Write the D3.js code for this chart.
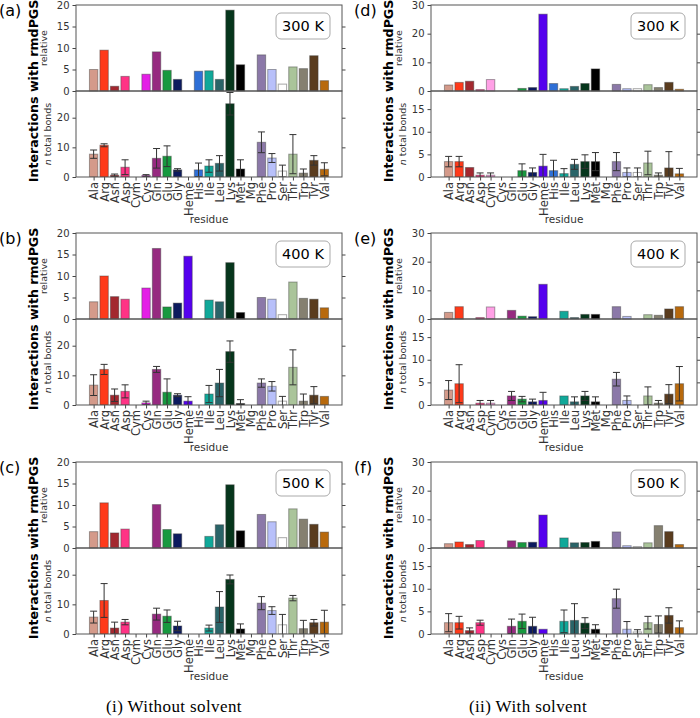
<!DOCTYPE html>
<html>
<head>
<meta charset="utf-8">
<script src="https://cdn.jsdelivr.net/npm/d3@7"></script>
<style>
  body { margin: 0; background: #fff; }
  text { font-family: "DejaVu Sans", sans-serif; }
</style>
</head>
<body>
<script>
// residues and their bar colours
var residues = ["Ala","Arg","Asn","Asp","Cym","Cys","Gln","Glu","Gly","Heme","His","Ile","Leu","Lys","Met","Mg","Phe","Pro","Ser","Thr","Trp","Tyr","Val"];
var colors = ["#d49a8a","#ff3a1a","#a3282f","#ff3385","#ffa0e6","#e41ee6","#962a80","#17993f","#0c1a5e","#5500ee","#2e6fd6","#10a899","#2a6468","#06361c","#000000","#888888","#8b78a8","#b8c0fa","#ffffff","#aac49a","#858070","#5a3c1e","#b8690c"];

// (i) without solvent: relative / n total bonds / error
var rel300 = [5.0,9.5,1.1,3.4,0,3.9,9.1,4.8,2.7,0,4.6,4.7,2.7,18.8,6.1,0,8.4,5.0,1.6,5.6,5.2,8.2,2.4];
var n300   = [7.7,10.7,0.6,3.3,0,0.5,6.3,7.0,2.4,0,2.4,3.7,4.6,24.7,2.7,0,11.7,6.4,2.0,7.7,1.3,5.6,2.6];
var e300   = [1.4,0.5,0.4,2.5,0,0.3,3.3,3.5,0.4,0,2.3,2.1,2.6,3.8,3.1,0,3.5,1.5,2.0,6.6,1.4,1.6,2.2];

var rel400 = [4.0,10.0,5.2,4.6,0,7.2,16.4,2.8,3.7,14.6,0,4.4,4.0,13.1,1.5,0,5.0,4.6,1.0,8.6,4.8,4.6,2.6];
var n400   = [6.7,12.0,3.3,4.6,0,0.7,12.0,4.3,3.3,1.3,0,3.7,7.4,18.0,0.5,0,7.4,6.3,1.3,12.7,1.3,3.3,2.9];
var e400   = [3.5,1.7,2.1,2.2,0,0.6,1.0,4.5,0.5,1.5,0,2.9,4.6,3.6,1.3,0,1.4,1.6,1.6,5.9,2.4,2.9,0];

var rel500 = [3.8,10.5,3.5,4.4,0,0,10.1,4.3,3.3,0,0,2.7,5.4,14.7,4.0,0,7.8,6.1,2.4,9.1,6.7,5.5,3.7];
var n500   = [5.7,11.3,2.0,4.0,0,0,6.7,6.0,2.7,0,0,2.0,9.1,18.4,1.7,0,10.4,7.9,3.1,12.1,1.8,3.8,4.0];
var e500   = [2.0,5.7,2.0,0.9,0,0,2.0,2.1,1.6,0,0,1.0,5.2,1.5,1.7,0,2.2,1.3,3.5,0.9,2.8,1.1,4.0];

// (ii) with solvent
var relS300 = [2.1,3.0,3.4,0.5,4.0,0,0,0.9,1.2,26.8,2.6,0.8,1.6,2.6,7.7,0,2.3,0.8,0.8,2.2,1.2,3.0,0.6];
var nS300   = [3.4,3.4,2.1,0.4,0.4,0,0,1.4,1.0,2.4,1.4,0.75,2.8,3.4,3.4,0,3.4,1.0,1.0,3.1,0.4,2.0,0.7];
var eS300   = [1.15,1.15,0,0.5,0.5,0,0,1.5,1.0,2.6,2.3,1.1,1.1,1.5,2.0,0,2.0,1.0,1.0,2.6,0.5,3.6,1.2];

var relS400 = [2.3,4.3,0,0.5,4.2,0,3.0,1.0,0.8,12.1,0,2.7,0.5,1.6,1.6,0,4.3,0.9,0,1.5,1.3,3.5,4.3];
var nS400   = [3.3,4.7,0,0.4,0.4,0,2.0,1.3,0.7,1.0,0,2.0,0.7,2.0,0.7,0,5.7,1.0,0,2.0,0.4,2.4,4.7];
var eS400   = [2.1,4.2,0,0.6,0.6,0,1.0,0.6,0.6,1.8,0,0,1.1,1.0,1.1,0,1.5,1.0,0,2.0,0.6,2.1,3.8];

var relS500 = [1.5,2.1,1.2,2.6,0,0,2.5,1.9,2.0,11.5,0,3.5,1.8,1.9,2.3,0,5.6,0.8,0.5,1.8,7.8,5.7,1.2];
var nS500   = [2.5,2.5,0.75,2.5,0,0,1.7,2.8,1.7,1.05,0,2.8,3.0,2.4,1.05,0,7.8,1.05,0.45,2.5,2.1,4.1,1.4];
var eS500   = [2.0,1.4,0.6,0.55,0,0,1.6,1.6,2.0,0,0,2.5,3.7,1.2,1.0,0,2.1,1.7,0.5,1.4,1.9,1.7,1.5];

// axis ticks
var relTicksL = [0,5,10,15,20], relTicksR = [0,10,20,30];
var nTicksL = [0,10,20], nTicksR = [0,5,10,15];

var svg = d3.select("body").append("svg")
    .attr("width", 700)
    .attr("height", 718);

var W = 266, H = 86;
var clipId = 0;

function styleAxis(g) {
    g.select(".domain").remove();
    g.selectAll("line").attr("stroke", "#444");
    g.selectAll("text").attr("fill", "#333").style("font-size", "10px");
}

function drawPanel(p) {
    var x = d3.scaleLinear().domain([-1.68, 23.68]).range([p.x0, p.x0 + W]);
    var yU = d3.scaleLinear().domain([0, p.relMax]).range([p.top + H, p.top]);
    var yL = d3.scaleLinear().domain([0, p.nMax]).range([p.top + 2 * H, p.top + H]);
    var bw = x(0.4) - x(0);
    var g = svg.append("g");

    // upper: relative
    g.append("g").selectAll("rect")
        .data(p.rel.map(function (v, i) { return {v: v, i: i}; }).filter(function (d) { return d.v > 0; }))
        .enter().append("rect")
        .attr("x", function (d) { return x(d.i) - bw; })
        .attr("width", 2 * bw)
        .attr("y", function (d) { return yU(d.v); })
        .attr("height", function (d) { return yU(0) - yU(d.v); })
        .attr("fill", function (d) { return colors[d.i]; })
        .attr("stroke", "rgba(60,60,60,0.45)")
        .attr("stroke-width", 1);

    // lower: n total bonds
    clipId++;
    svg.append("clipPath").attr("id", "clip" + clipId)
        .append("rect").attr("x", p.x0).attr("y", p.top + H).attr("width", W).attr("height", H);
    var lo = g.append("g").attr("clip-path", "url(#clip" + clipId + ")");
    var dat = p.n.map(function (v, i) { return {v: v, e: p.err[i], i: i}; });
    lo.selectAll("rect")
        .data(dat.filter(function (d) { return d.v > 0; }))
        .enter().append("rect")
        .attr("x", function (d) { return x(d.i) - bw; })
        .attr("width", 2 * bw)
        .attr("y", function (d) { return yL(d.v); })
        .attr("height", function (d) { return yL(0) - yL(d.v); })
        .attr("fill", function (d) { return colors[d.i]; })
        .attr("stroke", "rgba(60,60,60,0.45)")
        .attr("stroke-width", 1);

    var eb = lo.selectAll("g.eb")
        .data(dat.filter(function (d) { return d.e > 0; }))
        .enter().append("g")
        .attr("stroke", "#333")
        .attr("stroke-width", 1);
    eb.append("line")
        .attr("x1", function (d) { return x(d.i); })
        .attr("x2", function (d) { return x(d.i); })
        .attr("y1", function (d) { return yL(d.v - d.e); })
        .attr("y2", function (d) { return yL(d.v + d.e); });
    eb.append("line")
        .attr("x1", function (d) { return x(d.i) - 3.5; })
        .attr("x2", function (d) { return x(d.i) + 3.5; })
        .attr("y1", function (d) { return yL(d.v + d.e); })
        .attr("y2", function (d) { return yL(d.v + d.e); });
    eb.append("line")
        .attr("x1", function (d) { return x(d.i) - 3.5; })
        .attr("x2", function (d) { return x(d.i) + 3.5; })
        .attr("y1", function (d) { return yL(d.v - d.e); })
        .attr("y2", function (d) { return yL(d.v - d.e); });

    // axes
    g.append("g").attr("transform", "translate(" + p.x0 + ",0)")
        .call(d3.axisLeft(yU).tickValues(p.relTicks).tickSize(3.5).tickPadding(3))
        .call(styleAxis);
    g.append("g").attr("transform", "translate(" + (p.x0 + W) + ",0)")
        .call(d3.axisRight(yU).tickValues(p.relTicks.slice(1, -1)).tickSize(3.5).tickFormat(""))
        .call(styleAxis);
    g.append("g").attr("transform", "translate(" + p.x0 + ",0)")
        .call(d3.axisLeft(yL).tickValues(p.nTicks).tickSize(3.5).tickPadding(3))
        .call(styleAxis);
    g.append("g").attr("transform", "translate(" + (p.x0 + W) + ",0)")
        .call(d3.axisRight(yL).tickValues(p.nTicks.slice(1)).tickSize(3.5).tickFormat(""))
        .call(styleAxis);

    var xa = g.append("g").attr("transform", "translate(0," + (p.top + 2 * H) + ")")
        .call(d3.axisBottom(x).tickValues(d3.range(residues.length)).tickSize(3.5)
            .tickFormat(function (i) { return residues[i]; }))
        .call(styleAxis);
    xa.selectAll("text")
        .style("font-size", "11.5px")
        .attr("transform", "rotate(-90)")
        .attr("text-anchor", "end")
        .attr("x", -5)
        .attr("y", 0)
        .attr("dy", "0.35em");

    // frames
    [p.top, p.top + H].forEach(function (t) {
        g.append("rect").attr("x", p.x0).attr("y", t).attr("width", W).attr("height", H)
            .attr("fill", "none").attr("stroke", "#555").attr("stroke-width", 1);
    });

    // labels
    g.append("text")
        .attr("transform", "translate(" + (p.x0 - 29) + "," + (p.top + H / 2) + ") rotate(-90)")
        .attr("text-anchor", "middle")
        .attr("fill", "#333")
        .style("font-size", "9.5px")
        .text("relative");
    var nl = g.append("text")
        .attr("transform", "translate(" + (p.x0 - 25) + "," + (p.top + 1.5 * H) + ") rotate(-90)")
        .attr("text-anchor", "middle")
        .attr("fill", "#333")
        .style("font-size", "9.5px");
    nl.append("tspan").style("font-style", "italic").text("n");
    nl.append("tspan").text(" total bonds");

    g.append("text")
        .attr("transform", "translate(" + (p.x0 - 38) + "," + (p.top + H) + ") rotate(-90)")
        .attr("text-anchor", "middle")
        .style("font-size", "12.6px")
        .style("font-weight", "bold")
        .text("Interactions with rmdPGS");

    g.append("text")
        .attr("x", p.x0 + W / 2)
        .attr("y", p.top + 2 * H + 46)
        .attr("text-anchor", "middle")
        .attr("fill", "#333")
        .style("font-size", "10.5px")
        .text("residue");

    g.append("text")
        .attr("x", p.x0 - 77)
        .attr("y", p.top + 11)
        .style("font-size", "16px")
        .text(p.label);

    var bx = p.x0 + W - 66;
    g.append("rect")
        .attr("x", bx).attr("y", p.top + 8)
        .attr("width", 54).attr("height", 26)
        .attr("rx", 5)
        .attr("fill", "#fff")
        .attr("stroke", "#aaa");
    g.append("text")
        .attr("x", bx + 27).attr("y", p.top + 21)
        .attr("dy", "0.36em")
        .attr("text-anchor", "middle")
        .style("font-size", "14.5px")
        .text(p.temp);
}

var tops = [5, 233, 462];
var leftSets = [[rel300, n300, e300], [rel400, n400, e400], [rel500, n500, e500]];
var rightSets = [[relS300, nS300, eS300], [relS400, nS400, eS400], [relS500, nS500, eS500]];
var temps = ["300 K", "400 K", "500 K"];

tops.forEach(function (t, r) {
    drawPanel({x0: 76, top: t, label: ["(a)", "(b)", "(c)"][r], temp: temps[r],
        rel: leftSets[r][0], n: leftSets[r][1], err: leftSets[r][2],
        relMax: 20, relTicks: relTicksL, nMax: 29, nTicks: nTicksL});
    drawPanel({x0: 431, top: t, label: ["(d)", "(e)", "(f)"][r], temp: temps[r],
        rel: rightSets[r][0], n: rightSets[r][1], err: rightSets[r][2],
        relMax: 30, relTicks: relTicksR, nMax: 19, nTicks: nTicksR});
});

// captions
svg.append("text").attr("x", 174).attr("y", 712)
    .attr("text-anchor", "middle")
    .style("font-family", "'Liberation Serif', serif")
    .style("font-size", "17px")
    .style("letter-spacing", "0.4px")
    .text("(i) Without solvent");
svg.append("text").attr("x", 528).attr("y", 712)
    .attr("text-anchor", "middle")
    .style("font-family", "'Liberation Serif', serif")
    .style("font-size", "17px")
    .style("letter-spacing", "0.4px")
    .text("(ii) With solvent");
</script>
</body>
</html>
